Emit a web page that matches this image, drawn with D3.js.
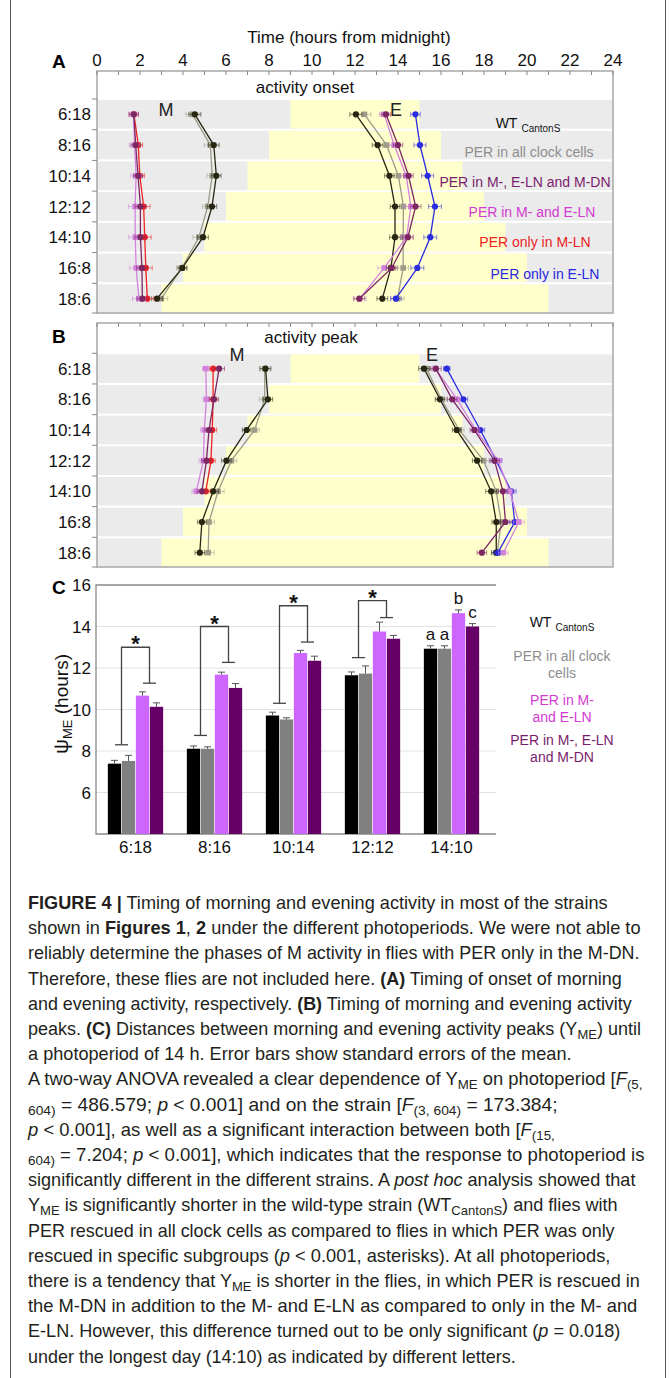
<!DOCTYPE html>
<html><head><meta charset="utf-8">
<script src="https://cdn.jsdelivr.net/npm/d3@7"></script>
<style>body{margin:0;background:#fff}svg{display:block}text{font-family:"Liberation Sans",Arial,Helvetica,sans-serif}</style>
</head><body><svg id="c" width="670" height="1378"></svg>
<script>
// ---------- DATA ----------
const periods = ["6:18","8:16","10:14","12:12","14:10","16:8","18:6"];
const lightHours = [6,8,10,12,14,16,18];
const timeTickLabels = [0,2,4,6,8,10,12,14,16,18,20,22,24];

// Panel A: activity onset, morning
const onsetM_wt   = [4.55, 5.43, 5.55, 5.35, 4.93, 3.97, 2.79];
const onsetM_all  = [4.44, 5.27, 5.36, 5.15, 4.74, 3.95, 2.99];
const onsetM_medn = [1.71, 1.80, 1.91, 2.02, 2.02, 2.09, 2.11];
const onsetM_meln = [1.70, 1.75, 1.82, 1.77, 1.78, 1.82, 1.95];
const onsetM_mln  = [1.72, 1.92, 1.99, 2.17, 2.22, 2.27, 2.34];
// Panel A: activity onset, evening
const onsetE_wt   = [12.04, 13.05, 13.60, 13.86, 13.86, 13.67, 13.27];
const onsetE_all  = [12.44, 13.47, 14.02, 14.25, 14.24, 14.24, 13.98];
const onsetE_medn = [13.44, 14.00, 14.49, 14.82, 14.46, 13.71, 12.20];
const onsetE_meln = [13.36, 13.82, 14.38, 14.60, 14.40, 13.36, 12.22];
const onsetE_eln  = [14.81, 15.02, 15.38, 15.72, 15.50, 14.90, 13.90];
// Panel B: activity peak, morning
const peakM_wt   = [7.84, 7.95, 6.96, 6.02, 5.40, 4.88, 4.78];
const peakM_all  = [7.80, 7.80, 7.33, 6.25, 5.63, 5.21, 5.17];
const peakM_medn = [5.68, 5.44, 5.21, 5.09, 4.88, null, null];
const peakM_meln = [5.06, 5.09, 4.99, 4.95, 4.62, null, null];
const peakM_mln  = [5.40, 5.40, 5.36, 5.30, 5.06, null, null];
// Panel B: activity peak, evening
const peakE_wt   = [15.21, 15.95, 16.73, 17.68, 18.33, 18.57, 18.57];
const peakE_all  = [15.32, 16.02, 16.85, 17.98, 18.57, 18.80, 18.62];
const peakE_medn = [15.76, 16.52, 17.55, 18.49, 18.88, 19.00, 17.90];
const peakE_meln = [15.74, 16.75, 17.62, 18.65, 19.20, 19.62, 18.90];
const peakE_eln  = [16.27, 17.04, 17.83, 18.57, 19.27, 19.43, 18.65];
// SEM (hours) for the time panels
const semA_wt   = [0.28, 0.25, 0.22, 0.22, 0.25, 0.20, 0.25];
const semA_all  = [0.30, 0.28, 0.25, 0.25, 0.28, 0.25, 0.30];
const semA_medn = [0.22, 0.22, 0.22, 0.25, 0.25, 0.25, 0.25];
const semA_meln = [0.22, 0.25, 0.25, 0.30, 0.30, 0.30, 0.30];
const semA_mln  = [0.20, 0.20, 0.22, 0.30, 0.30, 0.30, 0.30];
const semA_eln  = [0.22, 0.28, 0.28, 0.30, 0.30, 0.30, 0.25];
const semB_wt   = [0.25, 0.22, 0.20, 0.22, 0.25, 0.20, 0.22];
const semB_all  = [0.25, 0.25, 0.22, 0.25, 0.28, 0.25, 0.28];
const semB_medn = [0.25, 0.22, 0.20, 0.22, 0.22, 0.25, 0.22];
const semB_meln = [0.15, 0.15, 0.18, 0.20, 0.20, 0.25, 0.22];
const semB_mln  = [0.18, 0.18, 0.20, 0.20, 0.20, 0.20, 0.20];
const semB_eln  = [0.15, 0.20, 0.20, 0.25, 0.22, 0.25, 0.22];

const legendA = ["WT", "PER in all clock cells", "PER in M-, E-LN and M-DN", "PER in M- and E-LN", "PER only in M-LN", "PER only in E-LN"];

// Panel C
const catsC = ["6:18","8:16","10:14","12:12","14:10"];
const psi_wt   = [7.39, 8.11, 9.71, 11.65, 12.93];
const psi_all  = [7.52, 8.11, 9.52, 11.73, 12.93];
const psi_meln = [10.67, 11.68, 12.72, 13.76, 14.64];
const psi_medn = [10.13, 11.04, 12.35, 13.41, 14.00];
const psiErr_wt   = [0.16, 0.13, 0.16, 0.16, 0.14];
const psiErr_all  = [0.27, 0.09, 0.08, 0.37, 0.14];
const psiErr_meln = [0.18, 0.12, 0.13, 0.45, 0.16];
const psiErr_medn = [0.19, 0.21, 0.22, 0.16, 0.14];
const yTicksC = [6, 8, 10, 12, 14, 16];
const sigLeftBottom  = [8.3, 8.75, 10.3, 12.5];
const sigTop         = [13.0, 14.0, 15.0, 15.25];
const sigRightBottom = [11.27, 12.27, 13.25, 14.43];
const letters1410 = ["a", "a", "b", "c"];

// ---------- STYLES ----------
const col = {wt:"#262612", all:"#9c9c88", medn:"#7c2662", meln:"#d283dc", mln:"#ee2222", eln:"#2b2bdf"};
const legCol = {wt:"#111", all:"#8e8e8e", medn:"#7a1c6c", meln:"#d23ad2", mln:"#ee2222", eln:"#2727dd"};
const barCol = {wt:"#000000", all:"#808080", meln:"#cc66ff", medn:"#660066"};
const squareKeys = new Set(["all","meln"]);

const svg = d3.select("#c");
const xT = d3.scaleLinear().domain([0,24]).range([97,613]);

svg.append("line").attr("x1",10.5).attr("x2",10.5).attr("y1",0).attr("y2",1378).attr("stroke","#555");
svg.append("line").attr("x1",665.5).attr("x2",665.5).attr("y1",0).attr("y2",1378).attr("stroke","#555");

function timePanel(o){
  const g = svg.append("g");
  const yB = d3.scaleBand().domain(periods).range([o.bTop,o.bBot]).paddingInner(0.066).paddingOuter(0);
  periods.forEach((p,i)=>{
    const y = yB(p), h = yB.bandwidth();
    g.append("rect").attr("x",xT(0)).attr("y",y).attr("width",xT(24)-xT(0)).attr("height",h).attr("fill","#ebebeb");
    g.append("rect").attr("x",xT(12-lightHours[i]/2)).attr("y",y)
      .attr("width",xT(12+lightHours[i]/2)-xT(12-lightHours[i]/2)).attr("height",h).attr("fill","#ffffcc");
  });
  g.append("path").attr("d",`M${xT(0)},${o.top}V${o.bBot}H${xT(24)}V${o.top}Z`)
    .attr("fill","none").attr("stroke","#a8a8a8").attr("stroke-width",1.5);
  g.selectAll(".tt").data(xT.ticks(24)).join("line")
    .attr("x1",d=>xT(d)).attr("x2",d=>xT(d)).attr("y1",o.top).attr("y2",o.top+4)
    .attr("stroke","#888").attr("stroke-width",1);
  const gap = yB.step()-yB.bandwidth();
  const bounds = periods.map(p=>yB(p)-gap/2).concat([o.bBot]);
  g.selectAll(".lt").data(bounds).join("line")
    .attr("x1",xT(0)-5).attr("x2",xT(0)).attr("y1",d=>d).attr("y2",d=>d)
    .attr("stroke","#888").attr("stroke-width",1);
  g.selectAll(".rl").data(periods).join("text")
    .attr("x",91).attr("y",p=>yB(p)+yB.bandwidth()/2+6).attr("text-anchor","end")
    .attr("font-size",17).attr("fill","#111").text(p=>p);
  g.append("text").attr("x",52).attr("y",o.letterY).attr("font-size",19).attr("font-weight","bold").text(o.letter);
  g.append("text").attr("x",o.titleX).attr("y",o.titleY).attr("text-anchor","middle").attr("font-size",17).attr("fill","#111").text(o.title);
  g.append("text").attr("x",o.mX).attr("y",o.meY).attr("text-anchor","middle").attr("font-size",18).attr("fill","#222").text("M");
  g.append("text").attr("x",o.eX).attr("y",o.meY).attr("text-anchor","middle").attr("font-size",18).attr("fill","#222").text("E");

  const cy = i => yB(periods[i]) + yB.bandwidth()/2;
  o.series.forEach(s=>{
    const pts = s.vals.map((v,i)=>({v, e:s.err[i], i})).filter(d=>d.v!=null);
    const c = col[s.key];
    const sg = g.append("g");
    sg.append("path").datum(pts).attr("fill","none").attr("stroke",c).attr("stroke-width",1.3)
      .attr("d", d3.line().x(d=>xT(d.v)).y(d=>cy(d.i)));
    pts.forEach(d=>{
      const y = cy(d.i), x1 = xT(d.v-d.e), x2 = xT(d.v+d.e);
      sg.append("line").attr("x1",x1).attr("x2",x2).attr("y1",y).attr("y2",y).attr("stroke",c).attr("stroke-opacity",0.55).attr("stroke-width",1);
      [x1,x2].forEach(x=>sg.append("line").attr("x1",x).attr("x2",x).attr("y1",y-2.5).attr("y2",y+2.5).attr("stroke",c).attr("stroke-opacity",0.55).attr("stroke-width",1));
    });
    if (squareKeys.has(s.key)) {
      sg.selectAll("rect").data(pts).join("rect").attr("x",d=>xT(d.v)-2.8).attr("y",d=>cy(d.i)-2.8)
        .attr("width",5.6).attr("height",5.6).attr("fill",c);
    } else {
      sg.selectAll("circle").data(pts).join("circle").attr("cx",d=>xT(d.v)).attr("cy",d=>cy(d.i)).attr("r",3.1).attr("fill",c);
    }
  });
  return yB;
}

svg.append("text").attr("x",349).attr("y",43).attr("text-anchor","middle").attr("font-size",17).attr("fill","#111").text("Time (hours from midnight)");
svg.selectAll(".tl").data(timeTickLabels).join("text").attr("x",d=>xT(d)).attr("y",66)
  .attr("text-anchor","middle").attr("font-size",17).attr("fill","#111").text(d=>d);

timePanel({top:71, bTop:100, bBot:313, letter:"A", letterY:68, title:"activity onset", titleX:305, titleY:93,
  mX:166, eX:396, meY:116,
  series:[
    {key:"all", vals:onsetM_all, err:semA_all}, {key:"wt", vals:onsetM_wt, err:semA_wt},
    {key:"mln", vals:onsetM_mln, err:semA_mln}, {key:"meln", vals:onsetM_meln, err:semA_meln},
    {key:"medn", vals:onsetM_medn, err:semA_medn},
    {key:"all", vals:onsetE_all, err:semA_all}, {key:"wt", vals:onsetE_wt, err:semA_wt},
    {key:"eln", vals:onsetE_eln, err:semA_eln}, {key:"meln", vals:onsetE_meln, err:semA_meln},
    {key:"medn", vals:onsetE_medn, err:semA_medn}
  ]});

timePanel({top:323, bTop:354.3, bBot:567, letter:"B", letterY:343, title:"activity peak", titleX:311, titleY:343,
  mX:237, eX:432, meY:361,
  series:[
    {key:"all", vals:peakM_all, err:semB_all}, {key:"wt", vals:peakM_wt, err:semB_wt},
    {key:"mln", vals:peakM_mln, err:semB_mln}, {key:"meln", vals:peakM_meln, err:semB_meln},
    {key:"medn", vals:peakM_medn, err:semB_medn},
    {key:"all", vals:peakE_all, err:semB_all}, {key:"wt", vals:peakE_wt, err:semB_wt},
    {key:"eln", vals:peakE_eln, err:semB_eln}, {key:"meln", vals:peakE_meln, err:semB_meln},
    {key:"medn", vals:peakE_medn, err:semB_medn}
  ]});

const legA = [
  {k:"wt", x:528, y:128}, {k:"all", x:529, y:157}, {k:"medn", x:525, y:187},
  {k:"meln", x:532, y:217}, {k:"mln", x:535, y:247}, {k:"eln", x:545, y:279}
];
legA.forEach((d,i)=>{
  const t = svg.append("text").attr("x",d.x).attr("y",d.y).attr("text-anchor","middle").attr("font-size",14).attr("fill",legCol[d.k]);
  t.append("tspan").text(legendA[i]);
  if (d.k==="wt") t.append("tspan").attr("font-size",10).attr("dx",4).attr("dy",4).text("CantonS");
});

// ---------- PANEL C ----------
const gC = svg.append("g");
const yC = d3.scaleLinear().domain([4,16]).range([834,585]);
const xC = d3.scaleBand().domain(catsC).range([96,491]).paddingInner(0.3).paddingOuter(0.15);
const barKeys = ["wt","all","meln","medn"];
const xS = d3.scaleBand().domain(barKeys).range([0,xC.bandwidth()]).paddingInner(0.05);
const barVals = {wt:psi_wt, all:psi_all, meln:psi_meln, medn:psi_medn};
const barErr = {wt:psiErr_wt, all:psiErr_all, meln:psiErr_meln, medn:psiErr_medn};

gC.selectAll(".gl").data(yTicksC.filter(v=>v<16)).join("line")
  .attr("x1",96).attr("x2",496).attr("y1",d=>yC(d)).attr("y2",d=>yC(d)).attr("stroke","#e2e2e2").attr("stroke-width",1);
gC.append("path").attr("d",`M496,${yC(16)}H96V${yC(4)}H496`).attr("fill","none").attr("stroke","#8a8a8a").attr("stroke-width",1.3);
gC.selectAll(".yl").data(yTicksC).join("text").attr("x",91).attr("y",d=>yC(d)+6).attr("text-anchor","end")
  .attr("font-size",17).attr("fill","#111").text(d=>d);
gC.append("text").attr("x",52).attr("y",594).attr("font-size",19).attr("font-weight","bold").text("C");
const yl = gC.append("text").attr("transform","translate(68,704) rotate(-90)").attr("text-anchor","middle").attr("font-size",19).attr("fill","#111");
yl.append("tspan").attr("font-size",21).text("\u03C8");
yl.append("tspan").attr("font-size",13).attr("dy",4).text("ME");
yl.append("tspan").attr("dy",-4).text(" (hours)");

catsC.forEach((c,ci)=>{
  barKeys.forEach(k=>{
    const v = barVals[k][ci], e = barErr[k][ci];
    const x = xC(c)+xS(k), w = xS.bandwidth();
    gC.append("rect").attr("x",x).attr("y",yC(v)).attr("width",w).attr("height",yC(4)-yC(v)).attr("fill",barCol[k]);
    gC.append("line").attr("x1",x+w/2).attr("x2",x+w/2).attr("y1",yC(v)).attr("y2",yC(v+e)).attr("stroke","#555").attr("stroke-width",1);
    gC.append("line").attr("x1",x+w/2-3.5).attr("x2",x+w/2+3.5).attr("y1",yC(v+e)).attr("y2",yC(v+e)).attr("stroke","#555").attr("stroke-width",1);
  });
  gC.append("text").attr("x",xC(c)+xC.bandwidth()/2).attr("y",853).attr("text-anchor","middle").attr("font-size",17).attr("fill","#111").text(c);
});
sigTop.forEach((t,i)=>{
  const c = catsC[i];
  const xl = xC(c)+xS("all")-xS.step()*0.025, xr = xC(c)+xS("medn")-xS.step()*0.025;
  const cap = 6.5;
  gC.append("path").attr("d",`M${xl},${yC(sigLeftBottom[i])}V${yC(t)}H${xr}V${yC(sigRightBottom[i])}`)
    .attr("fill","none").attr("stroke","#444").attr("stroke-width",1.3);
  gC.append("line").attr("x1",xl-cap).attr("x2",xl+cap).attr("y1",yC(sigLeftBottom[i])).attr("y2",yC(sigLeftBottom[i])).attr("stroke","#444").attr("stroke-width",1.3);
  gC.append("line").attr("x1",xr-cap).attr("x2",xr+cap).attr("y1",yC(sigRightBottom[i])).attr("y2",yC(sigRightBottom[i])).attr("stroke","#444").attr("stroke-width",1.3);
  gC.append("text").attr("x",(xl+xr)/2).attr("y",yC(t)+4).attr("text-anchor","middle").attr("font-size",22).attr("font-weight","bold").attr("fill","#111").text("*");
});
barKeys.forEach((k,j)=>{
  const v = barVals[k][4]+barErr[k][4];
  gC.append("text").attr("x",xC("14:10")+xS(k)+xS.bandwidth()/2).attr("y",yC(v)-6).attr("text-anchor","middle")
    .attr("font-size",17).attr("fill","#111").text(letters1410[j]);
});
const legC = [
  {k:"wt", lines:["WT"], y:627},
  {k:"all", lines:["PER in all clock","cells"], y:661},
  {k:"meln", lines:["PER in M-","and E-LN"], y:705},
  {k:"medn", lines:["PER in M-, E-LN","and M-DN"], y:745}
];
legC.forEach(d=>{
  d.lines.forEach((ln,j)=>{
    const t = gC.append("text").attr("x",562).attr("y",d.y+j*17).attr("text-anchor","middle").attr("font-size",14).attr("fill",legCol[d.k]);
    t.append("tspan").text(ln);
    if (d.k==="wt") t.append("tspan").attr("font-size",10).attr("dx",4).attr("dy",4).text("CantonS");
  });
});

// ---------- CAPTION ----------
const captionLines = [
  [["FIGURE 4 |","b"],[" Timing of morning and evening activity in most of the strains"]],
  [["shown in "],["Figures 1","b"],[", "],["2","b"],[" under the different photoperiods. We were not able to"]],
  [["reliably determine the phases of M activity in flies with PER only in the M-DN."]],
  [["Therefore, these flies are not included here. "],["(A)","b"],[" Timing of onset of morning"]],
  [["and evening activity, respectively. "],["(B)","b"],[" Timing of morning and evening activity"]],
  [["peaks. "],["(C)","b"],[" Distances between morning and evening activity peaks (Y"],["ME","sub"],[") until"]],
  [["a photoperiod of 14 h. Error bars show standard errors of the mean."]],
  [["A two-way ANOVA revealed a clear dependence of Y"],["ME","sub"],[" on photoperiod ["],["F","i"],["(5,","sub"]],
  [["604)","sub"],[" = 486.579; "],["p","i"],[" < 0.001] and on the strain ["],["F","i"],["(3, 604)","sub"],[" = 173.384;"]],
  [["p","i"],[" < 0.001], as well as a significant interaction between both ["],["F","i"],["(15,","sub"]],
  [["604)","sub"],[" = 7.204; "],["p","i"],[" < 0.001], which indicates that the response to photoperiod is"]],
  [["significantly different in the different strains. A "],["post hoc","i"],[" analysis showed that"]],
  [["Y"],["ME","sub"],[" is significantly shorter in the wild-type strain (WT"],["CantonS","sub"],[") and flies with"]],
  [["PER rescued in all clock cells as compared to flies in which PER was only"]],
  [["rescued in specific subgroups ("],["p","i"],[" < 0.001, asterisks). At all photoperiods,"]],
  [["there is a tendency that Y"],["ME","sub"],[" is shorter in the flies, in which PER is rescued in"]],
  [["the M-DN in addition to the M- and E-LN as compared to only in the M- and"]],
  [["E-LN. However, this difference turned out to be only significant ("],["p","i"],[" = 0.018)"]],
  [["under the longest day (14:10) as indicated by different letters."]]
];
const captionRight = [608,641,640,622,632,641,572,643,558,556,645,636,618,615,611,640,638,621,516];
const capLeft = 28, capTop = 909, capStep = 25.2;
captionLines.forEach((segs,i)=>{
  const y = capTop + i*capStep;
  const gl = svg.append("g").attr("transform",`translate(${capLeft},${y})`);
  const t = gl.append("text").attr("x",0).attr("y",0).attr("font-size",18).attr("fill","#231f20");
  let down = false;
  segs.forEach(([s,st])=>{
    const ts = t.append("tspan").text(s);
    if (st==="b") ts.attr("font-weight","bold");
    if (st==="i") ts.attr("font-style","italic");
    if (st==="sub") { ts.attr("font-size",13); if(!down){ts.attr("dy",4); down=true;} }
    else if (down) { ts.attr("dy",-4); down=false; }
  });
  const w = t.node().getBBox().width;
  gl.attr("transform",`translate(${capLeft},${y}) scale(${(captionRight[i]-capLeft)/w},1)`);
});
</script></body></html>
